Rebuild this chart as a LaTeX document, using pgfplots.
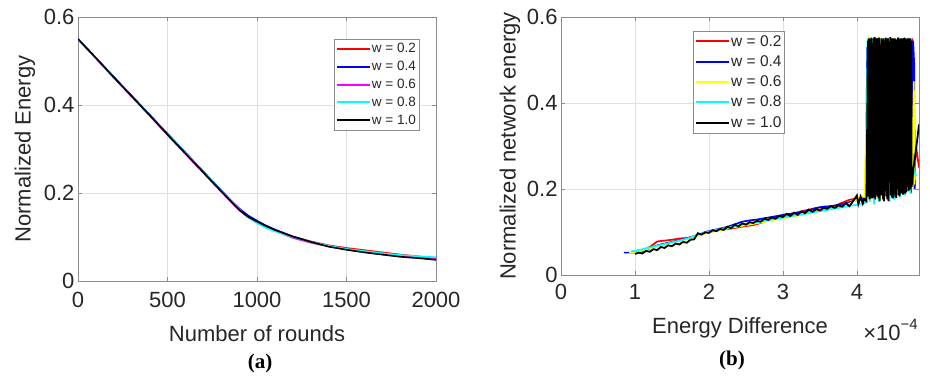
\documentclass[border=0pt]{standalone}
\usepackage{fontspec}
\setmainfont{Liberation Sans}
\newfontfamily\serifbf{Liberation Serif}
\usepackage{pgfplots}
\pgfplotsset{compat=1.18}
\definecolor{txt}{RGB}{38,38,38}
\definecolor{myred}{RGB}{255,0,0}
\definecolor{myblue}{RGB}{0,0,255}
\definecolor{myyellow}{RGB}{255,255,0}
\definecolor{mycyan}{RGB}{0,255,255}
\definecolor{mymag}{RGB}{255,0,255}
\pgfplotsset{
 mat/.style={
  scale only axis,
  axis line style={black!45, line width=0.6bp},
  tick style={black!45, line width=0.6bp},
  major tick length=4bp,
  tick align=inside,
  grid=major,
  major grid style={black!12, line width=0.5bp},
  ticklabel style={font=\fontsize{22bp}{26bp}\selectfont, text=txt},
  label style={font=\fontsize{22bp}{26bp}\selectfont, text=txt},
  /pgf/number format/assume math mode=true,
  /pgf/number format/1000 sep={},
  scaled ticks=false,
  legend cell align=left,
 }
}
\begin{document}
\begin{tikzpicture}
\path[use as bounding box] (0,0) rectangle (930bp,376bp);
% ---------------- (a) ----------------
\begin{axis}[mat, at={(78bp,95bp)}, anchor=south west, width=358bp, height=264bp,
  xmin=0, xmax=2000, ymin=0, ymax=0.6,
  xtick={0,500,1000,1500,2000}, ytick={0,0.2,0.4,0.6},
  xticklabel style={yshift=-8bp},
  xlabel={Number of rounds}, ylabel={Normalized Energy},
  xlabel style={at={(axis description cs:0.5,-0.231)}, anchor=base},
  ylabel style={at={(axis description cs:-0.148,0.5)}, anchor=center},
  legend image code/.code={\draw[#1] (0bp,0bp) -- (33bp,0bp);},
  legend style={at={(rel axis cs:1,1)}, anchor=north east, xshift=-17bp, yshift=-22bp,
    font=\fontsize{13.5bp}{15bp}\selectfont, text=txt, draw=black!45, inner xsep=2bp, inner ysep=3bp,
    row sep=5bp, nodes={inner sep=1bp}}]
\addlegendimage{draw=myred, line width=2bp}
\addlegendimage{draw=myblue, line width=2bp}
\addlegendimage{draw=mymag, line width=2bp}
\addlegendimage{draw=mycyan, line width=2bp}
\addlegendimage{draw=black, line width=2bp}
\legend{w = 0.2, w = 0.4, w = 0.6, w = 0.8, w = 1.0}
\addplot[draw=myred, line width=1.6bp, forget plot] coordinates {(0,0.550) (100,0.507) (200,0.463) (300,0.420) (400,0.377) (500,0.333) (600,0.290) (700,0.247) (800,0.204) (850,0.183) (900,0.162) (950,0.146) (1000,0.135) (1050,0.125) (1100,0.116) (1200,0.101) (1300,0.090) (1400,0.081) (1500,0.075) (1600,0.070) (1700,0.065) (1800,0.060) (1900,0.056) (2000,0.052)};
\addplot[draw=myblue, line width=1.6bp, forget plot] coordinates {(0,0.550) (100,0.507) (200,0.464) (300,0.421) (400,0.378) (500,0.335) (600,0.292) (700,0.249) (800,0.206) (850,0.185) (900,0.165) (950,0.149) (1000,0.137) (1050,0.126) (1100,0.117) (1200,0.101) (1300,0.089) (1400,0.079) (1500,0.072) (1600,0.066) (1700,0.061) (1800,0.057) (1900,0.053) (2000,0.050)};
\addplot[draw=mymag, line width=1.6bp, forget plot] coordinates {(0,0.550) (100,0.506) (200,0.462) (300,0.419) (400,0.376) (500,0.332) (600,0.289) (700,0.246) (800,0.203) (850,0.182) (900,0.161) (950,0.145) (1000,0.133) (1050,0.123) (1100,0.114) (1200,0.098) (1300,0.087) (1400,0.079) (1500,0.072) (1600,0.066) (1700,0.061) (1800,0.057) (1900,0.054) (2000,0.051)};
\addplot[draw=mycyan, line width=1.6bp, forget plot] coordinates {(0,0.550) (100,0.507) (200,0.463) (300,0.420) (400,0.377) (500,0.334) (600,0.291) (700,0.248) (800,0.205) (850,0.184) (900,0.163) (950,0.145) (1000,0.132) (1050,0.121) (1100,0.113) (1200,0.100) (1300,0.089) (1400,0.080) (1500,0.073) (1600,0.068) (1700,0.063) (1800,0.059) (1900,0.056) (2000,0.054)};
\addplot[draw=black, line width=1.6bp, forget plot] coordinates {(0,0.550) (100,0.507) (200,0.463) (300,0.420) (400,0.377) (500,0.333) (600,0.290) (700,0.247) (800,0.204) (850,0.183) (900,0.162) (950,0.146) (1000,0.135) (1050,0.125) (1100,0.116) (1200,0.101) (1300,0.089) (1400,0.078) (1500,0.071) (1600,0.065) (1700,0.060) (1800,0.055) (1900,0.052) (2000,0.048)};
\end{axis}
% ---------------- (b) ----------------
\begin{axis}[mat, at={(561bp,101bp)}, anchor=south west, width=358bp, height=258bp,
  xmin=0, xmax=4.84, ymin=0, ymax=0.6,
  xtick={0,1,2,3,4}, ytick={0,0.2,0.4,0.6},
  xticklabel style={yshift=-6bp},
  xlabel={Energy Difference}, ylabel={Normalized network energy},
  xlabel style={at={(axis description cs:0.5,-0.225)}, anchor=base},
  ylabel style={at={(axis description cs:-0.1425,0.5)}, anchor=center},
  legend image code/.code={\draw[#1] (0bp,0bp) -- (33bp,0bp);},
  legend style={at={(rel axis cs:0,1)}, anchor=north west, xshift=132bp, yshift=-14bp,
    font=\fontsize{15.5bp}{17bp}\selectfont, text=txt, draw=black!45, inner xsep=2bp, inner ysep=3bp,
    row sep=6bp, nodes={inner sep=1bp}}]
\addlegendimage{draw=myred, line width=2bp}
\addlegendimage{draw=myblue, line width=2bp}
\addlegendimage{draw=myyellow, line width=2bp}
\addlegendimage{draw=mycyan, line width=2bp}
\addlegendimage{draw=black, line width=2bp}
\legend{w = 0.2, w = 0.4, w = 0.6, w = 0.8, w = 1.0}
\addplot[draw=myred, line width=1.7bp, forget plot] coordinates {(1.10,0.058) (1.20,0.065) (1.30,0.078) (1.40,0.080) (1.50,0.082) (1.60,0.085) (1.70,0.086) (1.80,0.090) (1.90,0.095) (2.00,0.100) (2.10,0.103) (2.20,0.106) (2.30,0.108) (2.40,0.111) (2.50,0.114) (2.60,0.116) (2.70,0.121) (2.80,0.128) (2.90,0.134) (3.00,0.140) (3.10,0.142) (3.20,0.146) (3.30,0.150) (3.40,0.154) (3.50,0.157) (3.60,0.158) (3.70,0.161) (3.80,0.168) (3.90,0.175) (4.00,0.178) (4.10,0.182) (4.14,0.185)
 (4.15,0.540) (4.17,0.190) (4.21,0.545) (4.23,0.180) (4.27,0.550) (4.29,0.190) (4.33,0.540) (4.35,0.185) (4.39,0.550) (4.41,0.190) (4.45,0.545) (4.47,0.195) (4.51,0.550) (4.53,0.190) (4.57,0.548) (4.59,0.200) (4.63,0.550) (4.65,0.200) (4.69,0.545) (4.71,0.205) (4.75,0.550) (4.77,0.210) (4.80,0.300) (4.84,0.250)};
\addplot[draw=myblue, line width=1.7bp, forget plot] coordinates {(0.85,0.052) (0.95,0.052) (1.05,0.053) (1.15,0.058) (1.25,0.066) (1.35,0.071) (1.45,0.075) (1.55,0.079) (1.65,0.083) (1.75,0.087) (1.85,0.093) (1.95,0.100) (2.05,0.104) (2.15,0.108) (2.25,0.112) (2.35,0.118) (2.45,0.124) (2.55,0.127) (2.65,0.129) (2.75,0.132) (2.85,0.135) (2.95,0.138) (3.05,0.141) (3.15,0.143) (3.25,0.146) (3.35,0.150) (3.45,0.156) (3.55,0.159) (3.65,0.160) (3.75,0.163) (3.85,0.167) (3.95,0.172) (4.05,0.176) (4.12,0.178)
 (4.14,0.530) (4.17,0.180) (4.21,0.550) (4.24,0.175) (4.28,0.550) (4.31,0.180) (4.35,0.545) (4.38,0.185) (4.42,0.550) (4.45,0.190) (4.49,0.548) (4.52,0.180) (4.56,0.550) (4.59,0.190) (4.63,0.545) (4.66,0.200) (4.70,0.550) (4.73,0.190) (4.76,0.545) (4.775,0.490) (4.78,0.200) (4.79,0.220)};
\addplot[draw=myyellow, line width=1.7bp, forget plot] coordinates {(0.92,0.053) (1.00,0.052) (1.10,0.057) (1.20,0.062) (1.30,0.066) (1.40,0.070) (1.50,0.075) (1.60,0.079) (1.70,0.083) (1.80,0.088) (1.90,0.094) (2.00,0.099) (2.10,0.103) (2.20,0.106) (2.30,0.110) (2.40,0.113) (2.50,0.116) (2.60,0.119) (2.70,0.122) (2.80,0.125) (2.90,0.129) (3.00,0.132) (3.10,0.135) (3.20,0.138) (3.30,0.142) (3.40,0.146) (3.50,0.150) (3.60,0.153) (3.70,0.157) (3.80,0.161) (3.90,0.166) (4.00,0.175) (4.05,0.185) (4.10,0.180)
 (4.16,0.555) (4.18,0.170) (4.22,0.552) (4.25,0.180) (4.29,0.555) (4.32,0.175) (4.36,0.550) (4.39,0.180) (4.43,0.553) (4.46,0.185) (4.50,0.550) (4.53,0.190) (4.57,0.554) (4.60,0.190) (4.64,0.550) (4.67,0.195) (4.71,0.552) (4.74,0.200) (4.77,0.450) (4.78,0.210)};
\addplot[draw=mycyan, line width=1.7bp, forget plot] coordinates {(0.95,0.055) (1.05,0.058) (1.15,0.062) (1.25,0.066) (1.35,0.070) (1.45,0.074) (1.55,0.078) (1.65,0.082) (1.75,0.087) (1.85,0.094) (1.95,0.099) (2.05,0.103) (2.15,0.107) (2.25,0.110) (2.35,0.114) (2.45,0.118) (2.55,0.120) (2.65,0.123) (2.75,0.126) (2.85,0.129) (2.95,0.132) (3.05,0.135) (3.15,0.138) (3.25,0.141) (3.35,0.144) (3.45,0.147) (3.55,0.150) (3.65,0.153) (3.75,0.156) (3.85,0.159) (3.95,0.162) (4.05,0.165) (4.12,0.168)
 (4.14,0.450) (4.145,0.550) (4.17,0.170) (4.20,0.550) (4.23,0.165) (4.27,0.520) (4.30,0.170) (4.34,0.550) (4.37,0.175) (4.41,0.550) (4.44,0.170) (4.48,0.550) (4.51,0.175) (4.55,0.520) (4.58,0.180) (4.62,0.550) (4.65,0.185) (4.69,0.550) (4.72,0.190) (4.75,0.250) (4.80,0.230)};
\addplot[draw=black, line width=1.8bp, forget plot] coordinates {(1.00,0.049) (1.05,0.052) (1.10,0.050) (1.15,0.056) (1.20,0.054) (1.25,0.060) (1.30,0.058) (1.35,0.065) (1.40,0.063) (1.45,0.069) (1.50,0.067) (1.55,0.073) (1.60,0.071) (1.65,0.077) (1.70,0.075) (1.75,0.082) (1.80,0.083) (1.85,0.097) (1.90,0.094) (1.95,0.099) (2.00,0.098) (2.05,0.104) (2.10,0.102) (2.15,0.107) (2.20,0.105) (2.25,0.112) (2.30,0.109) (2.35,0.117) (2.40,0.113) (2.45,0.120) (2.50,0.117) (2.55,0.123) (2.60,0.121) (2.65,0.126) (2.70,0.124) (2.75,0.131) (2.80,0.128) (2.85,0.134) (2.90,0.131) (2.95,0.137) (3.00,0.135) (3.05,0.142) (3.10,0.137) (3.15,0.145) (3.20,0.140) (3.25,0.148) (3.30,0.144) (3.35,0.152) (3.40,0.147) (3.45,0.153) (3.50,0.150) (3.55,0.156) (3.60,0.154) (3.65,0.160) (3.70,0.156) (3.75,0.162) (3.80,0.159) (3.85,0.167) (3.90,0.160) (3.95,0.172) (4.00,0.185) (4.02,0.165) (4.05,0.182) (4.08,0.166) (4.10,0.177) (4.13,0.172)
 (4.1500,0.545) (4.1575,0.182) (4.1650,0.550) (4.1725,0.176) (4.1800,0.548) (4.1875,0.185) (4.1950,0.552) (4.2025,0.178) (4.2100,0.540) (4.2175,0.195) (4.2250,0.550) (4.2325,0.180) (4.2400,0.553) (4.2475,0.176) (4.2550,0.545) (4.2625,0.205) (4.2700,0.550) (4.2775,0.182) (4.2850,0.548) (4.2925,0.178) (4.3000,0.552) (4.3075,0.172) (4.3150,0.535) (4.3225,0.190) (4.3300,0.550) (4.3375,0.185) (4.3450,0.547) (4.3525,0.176) (4.3600,0.550) (4.3675,0.171) (4.3750,0.545) (4.3825,0.200) (4.3900,0.552) (4.3975,0.183) (4.4050,0.548) (4.4125,0.176) (4.4200,0.550) (4.4275,0.172) (4.4350,0.540) (4.4425,0.215) (4.4500,0.553) (4.4575,0.185) (4.4650,0.548) (4.4725,0.180) (4.4800,0.550) (4.4875,0.178) (4.4950,0.545) (4.5025,0.190) (4.5100,0.550) (4.5175,0.182) (4.5250,0.530) (4.5325,0.179) (4.5400,0.548) (4.5475,0.200) (4.5550,0.552) (4.5625,0.186) (4.5700,0.549) (4.5775,0.183) (4.5850,0.550) (4.5925,0.210) (4.6000,0.547) (4.6075,0.190) (4.6150,0.550) (4.6225,0.187) (4.6300,0.545) (4.6375,0.195) (4.6450,0.552) (4.6525,0.189) (4.6600,0.550) (4.6675,0.192) (4.6750,0.548) (4.6825,0.205) (4.6900,0.550) (4.6975,0.195) (4.7050,0.546) (4.7125,0.198) (4.7200,0.550) (4.7275,0.200) (4.7350,0.545)
 (4.740,0.205) (4.76,0.240) (4.79,0.280) (4.82,0.320) (4.84,0.350)};
\end{axis}
\node[anchor=base east, text=txt, font=\fontsize{22bp}{26bp}\selectfont, inner sep=0pt] at (918bp,36bp) {×10\raisebox{0.5em}{\fontsize{15bp}{15bp}\selectfont −4}};
\node[anchor=base, font=\serifbf\bfseries\fontsize{21bp}{24bp}\selectfont, inner sep=0pt] at (260bp,8bp) {(a)};
\node[anchor=base, font=\serifbf\bfseries\fontsize{21bp}{24bp}\selectfont, inner sep=0pt] at (732bp,11bp) {(b)};
\end{tikzpicture}
\end{document}
